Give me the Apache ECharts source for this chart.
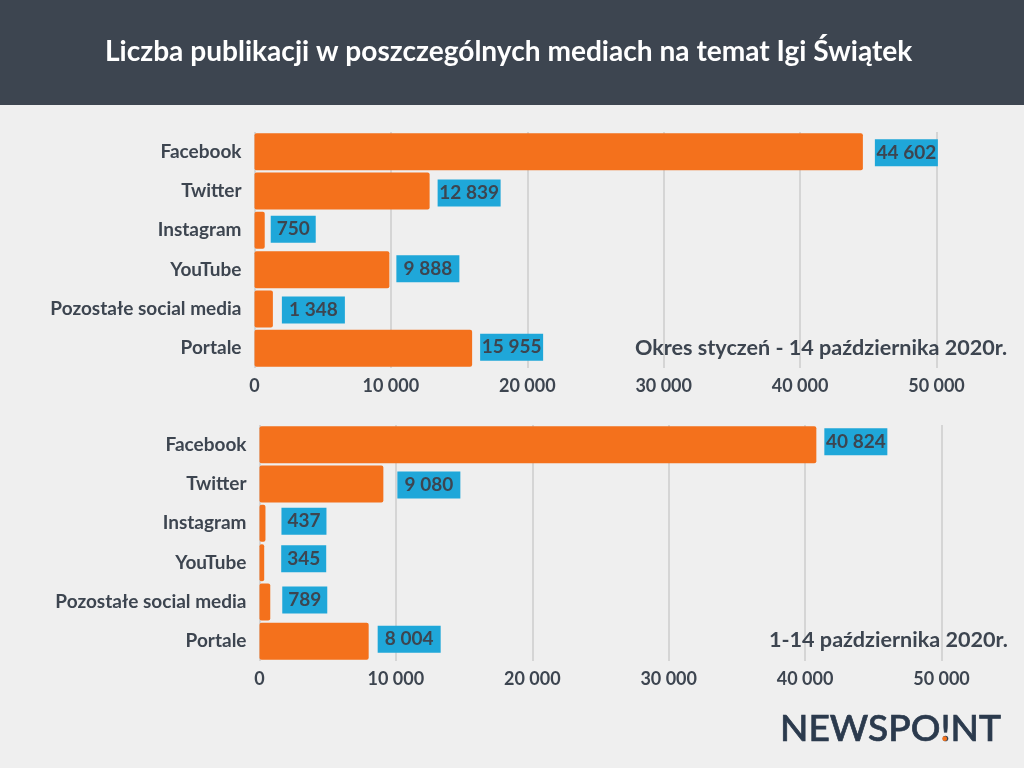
<!DOCTYPE html>
<html lang="pl">
<head>
<meta charset="UTF-8">
<title>Liczba publikacji</title>
<script src="https://cdn.jsdelivr.net/npm/echarts@6/dist/echarts.min.js"></script>
<style>
html, body { margin: 0; padding: 0; background: #efefef; }
#main { width: 1024px; height: 768px; }
</style>
</head>
<body>
<div id="main"></div>
<script>
var categories = ['Facebook', 'Twitter', 'Instagram', 'YouTube', 'Pozostałe social media', 'Portale'];
var valuesYear = [44602, 12839, 750, 9888, 1348, 15955];
var valuesOctober = [40824, 9080, 437, 345, 789, 8004];
var xTicks = [0, 10000, 20000, 30000, 40000, 50000];

// the value boxes were placed by hand in the original: gap to the bar, vertical shift
var nudgeYear = [[12, 1], [8, 2], [6, -1], [7, -1], [9, 1], [8, -1]];
var nudgeOctober = [[8, -3], [14, 1], [16, -2], [17, -4], [12, -2], [9, -2]];

var dark = '#3d4550';
var font = 'Lato';

function spaced(v) {
    return String(v).replace(/\B(?=(\d{3})+$)/g, ' ');
}

function xAxis(idx) {
    return {
        type: 'value', gridIndex: idx, min: xTicks[0], max: xTicks[xTicks.length - 1], interval: xTicks[1],
        axisLine: { show: false }, axisTick: { show: false },
        splitLine: { lineStyle: { color: '#cccccc', width: 1.5 } },
        axisLabel: {
            color: dark, fontFamily: font, fontWeight: 'bold', fontSize: 18, margin: 9,
            formatter: function (v) { return spaced(v); }
        }
    };
}

function yAxis(idx) {
    return {
        type: 'category', gridIndex: idx, data: categories, inverse: true,
        axisLine: { show: false }, axisTick: { show: false },
        axisLabel: { color: dark, fontFamily: font, fontWeight: 'bold', fontSize: 19, margin: 13 }
    };
}

function boxStyle(w) {
    return {
        width: w, height: 27, lineHeight: 27, align: 'center',
        color: dark, fontFamily: font, fontWeight: 'bold', fontSize: 19,
        backgroundColor: '#1fa7d9'
    };
}

function series(idx, data, nudge) {
    return {
        type: 'bar', xAxisIndex: idx, yAxisIndex: idx, barWidth: 37,
        itemStyle: { color: '#f4711c', borderRadius: 2 },
        data: data.map(function (v, i) {
            return {
                value: v,
                label: {
                    show: true, position: 'right', distance: nudge[i][0], offset: [0, nudge[i][1]],
                    formatter: function (p) { return (p.value < 1000 ? '{s|' : '{w|') + spaced(p.value) + '}'; },
                    rich: { s: boxStyle(45), w: boxStyle(63) }
                }
            };
        })
    };
}

var chart = echarts.init(document.getElementById('main'));
chart.setOption({
    animation: false,
    backgroundColor: '#efefef',
    graphic: [
        { type: 'rect', left: 0, top: 0, shape: { width: 1024, height: 105 }, style: { fill: '#3d4550' } },
        { type: 'text', left: 105, top: 38, style: { text: 'Liczba publikacji w poszczególnych mediach na temat Igi Świątek', fill: '#fff', font: 'bold 28.1px Lato' } },
        { type: 'text', left: 635, top: 337, z: 10, style: { text: 'Okres styczeń - 14 października 2020r.', fill: dark, font: 'bold 21.6px Lato' } },
        { type: 'text', left: 769, top: 629, z: 10, style: { text: '1-14 października 2020r.', fill: dark, font: 'bold 21.6px Lato' } },
        { type: 'text', x: 780, y: 711, scaleX: 1.03, z: 10, style: { text: 'NEWSPO!NT', fill: '#2b3a4d', stroke: '#2b3a4d', lineWidth: 0.7, font: '500 36px Lato' } },
        { type: 'circle', shape: { cx: 944.7, cy: 738.7, r: 2.4 }, z: 11, style: { fill: '#f4731c' } }
    ],
    grid: [
        { left: 254.5, width: 682, top: 132, height: 236 },
        { left: 259.5, width: 682, top: 425, height: 236 }
    ],
    xAxis: [xAxis(0), xAxis(1)],
    yAxis: [yAxis(0), yAxis(1)],
    series: [series(0, valuesYear, nudgeYear), series(1, valuesOctober, nudgeOctober)]
});
</script>
</body>
</html>
